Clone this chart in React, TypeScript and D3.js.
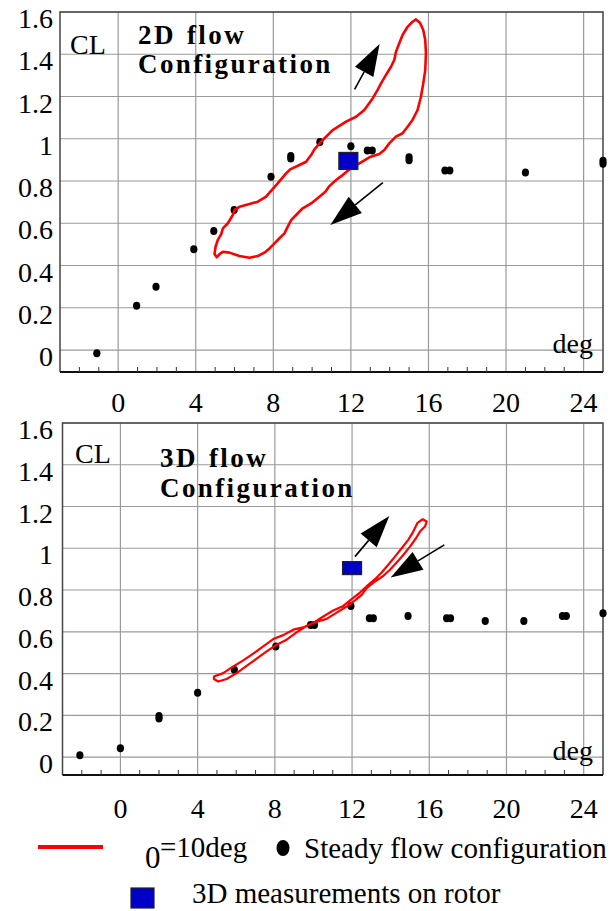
import React, { useEffect, useRef } from 'react';
import * as d3 from 'd3';

// axis ticks
const degTicks = [0, 4, 8, 12, 16, 20, 24];
const clTicks = [0, 0.2, 0.4, 0.6, 0.8, 1, 1.2, 1.4, 1.6];

// 2D flow: steady polar, [deg, CL]
const steady2D: [number, number][] = [
  [-1.1, -0.015], [0.95, 0.21], [1.95, 0.3], [3.9, 0.477], [4.93, 0.563],
  [5.98, 0.663], [7.88, 0.82], [8.9, 0.906], [8.9, 0.918], [10.4, 0.985],
  [12, 0.965], [12.85, 0.945], [13.1, 0.945], [15, 0.898], [15, 0.912],
  [16.85, 0.85], [17.1, 0.85], [21, 0.84], [25, 0.882], [25, 0.896],
];

// 2D flow: oscillating loop (alpha0 = 10 deg), [deg, CL]
const loop2D: [number, number][] = [
  [4.969, 0.454], [5.021, 0.489], [5.139, 0.521], [5.314, 0.549], [5.397, 0.576],
  [5.654, 0.6], [5.911, 0.639], [5.999, 0.663], [6.257, 0.678], [6.771, 0.691],
  [7.199, 0.702], [7.631, 0.726], [7.837, 0.749], [8.146, 0.781], [8.661, 0.836],
  [8.867, 0.855], [9.346, 0.876], [9.691, 0.891], [9.949, 0.923], [10.118, 0.95],
  [10.463, 0.986], [11.061, 1.041], [11.751, 1.081], [12.266, 1.104], [12.693, 1.136],
  [13.121, 1.191], [13.378, 1.231], [13.553, 1.262], [13.811, 1.302], [14.068, 1.341],
  [14.238, 1.373], [14.325, 1.412], [14.495, 1.452], [14.665, 1.491], [14.923, 1.53],
  [15.18, 1.554], [15.355, 1.565], [15.561, 1.549], [15.731, 1.515], [15.834, 1.467],
  [15.87, 1.404], [15.834, 1.325], [15.731, 1.262], [15.613, 1.199], [15.438, 1.136],
  [15.18, 1.089], [14.923, 1.057], [14.665, 1.026], [14.325, 1.01], [13.98, 0.978],
  [13.723, 0.947], [13.465, 0.928], [12.951, 0.912], [12.436, 0.884], [11.921, 0.855],
  [11.576, 0.828], [11.236, 0.805], [10.891, 0.776], [10.685, 0.749], [10.376, 0.726],
  [9.949, 0.694], [9.516, 0.671], [9.176, 0.639], [8.919, 0.615], [8.744, 0.584],
  [8.574, 0.552], [8.316, 0.529], [8.059, 0.505], [7.801, 0.481], [7.544, 0.461],
  [7.199, 0.445], [6.771, 0.437], [6.257, 0.445], [5.741, 0.461], [5.397, 0.465],
  [5.227, 0.454], [5.088, 0.439],
];

const rotor2D: [number, number] = [11.87, 0.895];

// direction arrows [tail, tip]
const arrows2D: [number, number][][] = [
  [[12.19, 1.234], [13.48, 1.449]],
  [[13.65, 0.792], [10.94, 0.592]],
];

// 3D flow: steady polar, [deg, CL]
const steady3D: [number, number][] = [
  [-2.1, 0.008], [0, 0.042], [2, 0.185], [2, 0.197], [4, 0.308],
  [5.9, 0.418], [8.05, 0.529], [9.85, 0.633], [10.05, 0.633], [11.94, 0.724],
  [12.9, 0.665], [13.1, 0.665], [14.9, 0.676], [16.9, 0.665], [17.1, 0.665],
  [18.9, 0.652], [20.9, 0.652], [22.9, 0.676], [23.1, 0.676], [25, 0.689],
];

// 3D flow: oscillating loop, [deg, CL]
const loop3D: [number, number][] = [
  [4.845, 0.386], [5.326, 0.402], [5.845, 0.434], [6.363, 0.463], [6.881, 0.495],
  [7.399, 0.53], [7.917, 0.565], [8.435, 0.584], [8.953, 0.61], [9.472, 0.621],
  [9.99, 0.642], [10.508, 0.673], [11.026, 0.702], [11.544, 0.724], [11.979, 0.756],
  [12.409, 0.788], [12.839, 0.825], [13.187, 0.852], [13.534, 0.884], [13.876, 0.921],
  [14.223, 0.96], [14.57, 1.0], [14.912, 1.04], [15.171, 1.08], [15.378, 1.12],
  [15.658, 1.139], [15.865, 1.128], [15.777, 1.104], [15.518, 1.08], [15.311, 1.048],
  [15.0, 1.008], [14.653, 0.968], [14.311, 0.932], [13.964, 0.897], [13.585, 0.865],
  [13.187, 0.841], [12.756, 0.809], [12.497, 0.777], [12.15, 0.75], [11.72, 0.721],
  [11.202, 0.692], [10.684, 0.662], [10.166, 0.648], [9.648, 0.629], [9.13, 0.597],
  [8.611, 0.562], [8.093, 0.538], [7.575, 0.506], [7.057, 0.471], [6.539, 0.437],
  [6.021, 0.402], [5.503, 0.374], [5.067, 0.362], [4.845, 0.374],
];

const rotor3D: [number, number] = [12.0, 0.905];

const arrows3D: [number, number][][] = [
  [[12.15, 0.96], [13.93, 1.155]],
  [[16.78, 1.016], [14.0, 0.86]],
];

const FONT = '"Liberation Serif", "Times New Roman", serif';

const panels = [
  {
    x0: 60, x1: 603, yTop: 12, yBottom: 372, clMin: -0.104,
    steady: steady2D, loop: loop2D, rotor: rotor2D, arrows: arrows2D,
    title: ['2D flow', 'Configuration'], titleX: 138, titleY: [44, 73],
    clX: 70, clY: 54, labelY: 412, squareH: 17, loopWidth: 2.6,
  },
  {
    x0: 62.5, x1: 603, yTop: 423, yBottom: 775, clMin: -0.086,
    steady: steady3D, loop: loop3D, rotor: rotor3D, arrows: arrows3D,
    title: ['3D flow', 'Configuration'], titleX: 160, titleY: [467, 497],
    clX: 75, clY: 463, labelY: 818, squareH: 13, loopWidth: 2.2,
  },
];

const App = () => {
  const svgRef = useRef<SVGSVGElement>(null);

  useEffect(() => {
    const svg = d3.select(svgRef.current);
    svg.selectAll('*').remove();

    panels.forEach((p) => {
      const x = d3.scaleLinear().domain([-3, 25]).range([p.x0, p.x1]);
      const y = d3.scaleLinear().domain([p.clMin, 1.6]).range([p.yBottom, p.yTop]);
      const g = svg.append('g');

      // grid
      g.selectAll('.vgrid')
        .data(degTicks)
        .join('line')
        .attr('x1', (d) => x(d)).attr('x2', (d) => x(d))
        .attr('y1', p.yTop).attr('y2', p.yBottom)
        .attr('stroke', '#9a9a9a').attr('stroke-width', 1.2);
      g.selectAll('.hgrid')
        .data(clTicks)
        .join('line')
        .attr('x1', p.x0).attr('x2', p.x1)
        .attr('y1', (d) => y(d)).attr('y2', (d) => y(d))
        .attr('stroke', '#9a9a9a').attr('stroke-width', 1.2);

      // frame
      g.append('path')
        .attr('d', `M${p.x0},${p.yBottom}V${p.yTop}H${p.x1}V${p.yBottom}`)
        .attr('fill', 'none').attr('stroke', '#444').attr('stroke-width', 1.5);
      g.append('line')
        .attr('x1', p.x0).attr('x2', p.x1)
        .attr('y1', p.yBottom).attr('y2', p.yBottom)
        .attr('stroke', '#111').attr('stroke-width', 2);

      // minor ticks every degree
      g.selectAll('.minor')
        .data(d3.range(-2, 25).filter((d) => d % 4 !== 0))
        .join('line')
        .attr('x1', (d) => x(d)).attr('x2', (d) => x(d))
        .attr('y1', p.yBottom).attr('y2', p.yBottom - 5)
        .attr('stroke', '#333').attr('stroke-width', 1);

      // tick labels
      g.selectAll('.ylab')
        .data(clTicks)
        .join('text')
        .attr('x', 53)
        .attr('y', (d) => y(d) + 16)
        .attr('text-anchor', 'end')
        .attr('font-family', FONT).attr('font-size', 28)
        .text((d) => String(d));
      g.selectAll('.xlab')
        .data(degTicks)
        .join('text')
        .attr('x', (d) => x(d))
        .attr('y', p.labelY)
        .attr('text-anchor', 'middle')
        .attr('font-family', FONT).attr('font-size', 28)
        .text((d) => String(d));

      g.append('text')
        .attr('x', p.clX).attr('y', p.clY)
        .attr('font-family', FONT).attr('font-size', 28)
        .text('CL');
      g.append('text')
        .attr('x', 593).attr('y', y(0) + 3)
        .attr('text-anchor', 'end')
        .attr('font-family', FONT).attr('font-size', 28)
        .text('deg');

      g.selectAll('.title')
        .data(p.title)
        .join('text')
        .attr('x', p.titleX)
        .attr('y', (d, i) => p.titleY[i])
        .attr('font-family', FONT).attr('font-size', 27).attr('font-weight', 'bold')
        .attr('letter-spacing', 2.4).attr('word-spacing', 2)
        .text((d) => d);

      // steady points
      g.selectAll('.pt')
        .data(p.steady)
        .join('ellipse')
        .attr('cx', (d) => x(d[0]))
        .attr('cy', (d) => y(d[1]))
        .attr('rx', 3.6).attr('ry', 4)
        .attr('fill', '#000');

      // unsteady loop
      const line = d3.line<[number, number]>()
        .x((d) => x(d[0]))
        .y((d) => y(d[1]))
        .curve(d3.curveLinearClosed);
      g.append('path')
        .attr('d', line(p.loop))
        .attr('fill', 'none')
        .attr('stroke', '#ff0000')
        .attr('stroke-width', p.loopWidth)
        .attr('stroke-linejoin', 'round');

      // rotor measurement
      g.append('rect')
        .attr('x', x(p.rotor[0]) - 9.5)
        .attr('y', y(p.rotor[1]) - p.squareH / 2)
        .attr('width', 19).attr('height', p.squareH)
        .attr('fill', '#0000c8').attr('stroke', '#222').attr('stroke-width', 1.2);

      // arrows
      p.arrows.forEach(([tail, tip]) => {
        const tx = x(tail[0]), ty = y(tail[1]);
        const hx = x(tip[0]), hy = y(tip[1]);
        const len = Math.hypot(hx - tx, hy - ty);
        const ux = (hx - tx) / len, uy = (hy - ty) / len;
        const headLen = 32, half = 10.5;
        const bx = hx - ux * headLen, by = hy - uy * headLen;
        g.append('line')
          .attr('x1', tx).attr('y1', ty).attr('x2', bx).attr('y2', by)
          .attr('stroke', '#000').attr('stroke-width', 1.6);
        g.append('path')
          .attr('d', `M${hx},${hy}L${bx - uy * half},${by + ux * half}L${bx + uy * half},${by - ux * half}Z`)
          .attr('fill', '#000');
      });
    });

    // legend
    const lg = svg.append('g');
    lg.append('line')
      .attr('x1', 38).attr('x2', 103).attr('y1', 847).attr('y2', 847)
      .attr('stroke', '#ff0000').attr('stroke-width', 4);
    lg.append('text')
      .attr('x', 145).attr('y', 868)
      .attr('font-family', FONT).attr('font-size', 31)
      .text('0');
    lg.append('text')
      .attr('x', 160).attr('y', 857)
      .attr('font-family', FONT).attr('font-size', 29)
      .text('=10deg');
    lg.append('ellipse')
      .attr('cx', 283).attr('cy', 848).attr('rx', 6.5).attr('ry', 8)
      .attr('fill', '#000');
    lg.append('text')
      .attr('x', 304).attr('y', 858)
      .attr('font-family', FONT).attr('font-size', 29)
      .text('Steady flow configuration');
    lg.append('rect')
      .attr('x', 131).attr('y', 888).attr('width', 23).attr('height', 20)
      .attr('fill', '#0000c8').attr('stroke', '#222').attr('stroke-width', 1.2);
    lg.append('text')
      .attr('x', 192).attr('y', 903)
      .attr('font-family', FONT).attr('font-size', 29)
      .text('3D measurements on rotor');
  }, []);

  return (
    <div style={{ position: 'absolute', left: 0, top: 0, background: '#fff' }}>
      <svg ref={svgRef} width={615} height={911} />
    </div>
  );
};

export default App;
